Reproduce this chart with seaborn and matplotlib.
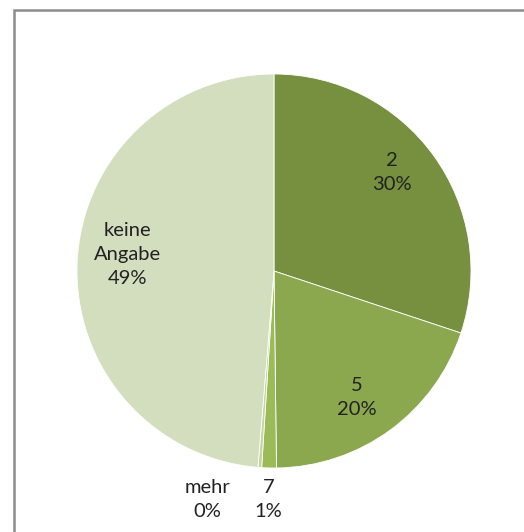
import numpy as np
import matplotlib
matplotlib.use("Agg")
import matplotlib.pyplot as plt
import seaborn as sns
from matplotlib.patches import Rectangle

# slice data, clockwise from 12 o'clock
categories = ["2", "5", "7", "mehr", "keine\nAngabe"]
shares = [30.1, 19.7, 1.2, 0.3, 48.7]
colors = ["#76903F", "#8CA84F", "#9BBB59", "#C3D69B", "#D2DEBE"]

sns.set_theme(style="white")
plt.rcParams["font.family"] = ["Lato", "DejaVu Sans"]

fig = plt.figure(figsize=(5.24, 5.32), dpi=100)

# grey chart frame (only top/left edges visible in the crop)
fig.patches.append(Rectangle((14 / 524, -0.1), 1.2, 1 - 10 / 532 + 0.1,
                             transform=fig.transFigure, fill=False,
                             edgecolor="#8C8C8C", linewidth=1.8))

ax = fig.add_axes([(274 - 197) / 524, 1 - (271 + 197) / 532, 394 / 524, 394 / 532])
wedges, _ = ax.pie(shares, colors=colors, startangle=90, counterclock=False,
                   radius=1, wedgeprops=dict(edgecolor="white", linewidth=0.6))
ax.set_xlim(-1, 1)
ax.set_ylim(-1, 1)
ax.set_aspect("equal")
ax.axis("off")

# label placement: radial distance and angular shift per slice
label_dist = [0.78, 0.77, 1.16, 1.21, 0.75]
angle_shift = [4, -3, 0, -12, -4]
for w, name, val, d, da in zip(wedges, categories, shares, label_dist, angle_shift):
    mid = np.deg2rad((w.theta1 + w.theta2) / 2 + da)
    x, y = d * np.cos(mid), d * np.sin(mid)
    ax.text(x, y, f"{name}\n{val:.0f}%", ha="center", va="center",
            fontsize=14.5, color="#222222", linespacing=1.5, clip_on=False)

fig.savefig("out.png", dpi=100)
